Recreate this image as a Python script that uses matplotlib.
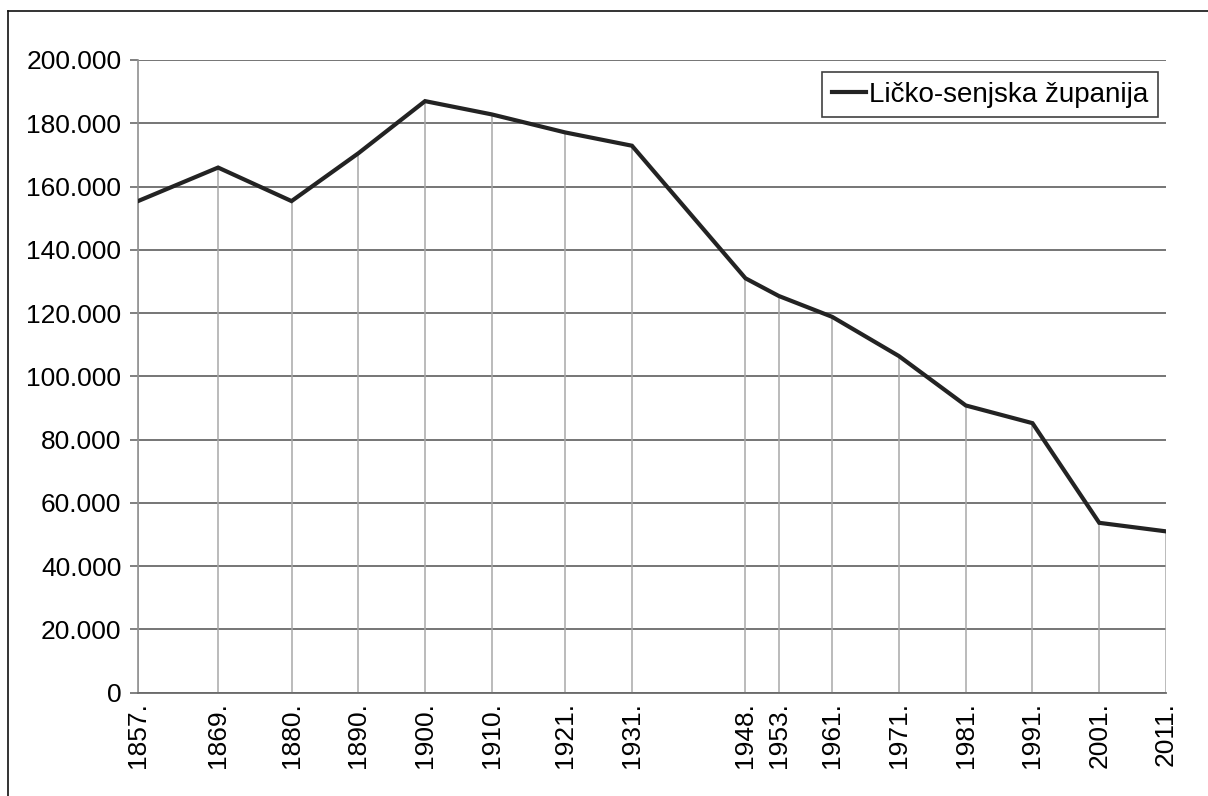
import matplotlib
matplotlib.use("Agg")
import matplotlib.pyplot as plt
from matplotlib import font_manager
from matplotlib.ticker import FuncFormatter, FixedLocator
from matplotlib.lines import Line2D

years = [1857, 1869, 1880, 1890, 1900, 1910, 1921, 1931, 1948, 1953, 1961, 1971, 1981, 1991, 2001, 2011]
population = [155400, 166000, 155400, 170500, 187000, 182800, 177100, 172900,
              131000, 125400, 118800, 106400, 90800, 85200, 53700, 51000]
series_name = "Ličko-senjska županija"
year_labels = [f"{y}." for y in years]
y_ticks = [0, 20000, 40000, 60000, 80000, 100000, 120000, 140000, 160000, 180000, 200000]

names = {f.name for f in font_manager.fontManager.ttflist}
fam = "Liberation Sans Narrow" if "Liberation Sans Narrow" in names else "Liberation Sans"
plt.rcParams['font.family'] = [fam, 'DejaVu Sans']

W, H = 1208, 796
fig = plt.figure(figsize=(W / 100, H / 100), dpi=100)
L, R, T, B = 138, 1166, 60, 692.7
ax = fig.add_axes([L / W, 1 - B / H, (R - L) / W, (B - T) / H])

# drop lines from each point down to zero
ax.vlines(years, 0, population, colors="#a8a8a8", linewidth=1.1, zorder=1)
ax.set_xlim(years[0], years[-1])
ax.set_ylim(0, 200000)
ax.yaxis.set_major_locator(FixedLocator(y_ticks))
ax.grid(axis="y", color="#6a6a6a", linewidth=1.3, zorder=0)
ax.set_axisbelow(True)

ax.plot(years, population, color="#232323", linewidth=3.0, solid_joinstyle="miter",
        zorder=3, label=series_name)

ax.set_xticks(years)
ax.set_xticklabels(year_labels, rotation=90, fontsize=19)
ax.yaxis.set_major_formatter(FuncFormatter(lambda v, p: "0" if v == 0 else f"{int(v):,}".replace(",", ".")))
ax.tick_params(axis="y", labelsize=19, length=6, width=1.2, color="#6a6a6a", pad=6)
ax.tick_params(axis="x", length=0, pad=7)

for s in ["top", "right"]:
    ax.spines[s].set_visible(False)
ax.spines["left"].set_color("#909090")
ax.spines["left"].set_linewidth(1.2)
ax.spines["bottom"].set_color("#6a6a6a")
ax.spines["bottom"].set_linewidth(1.3)

leg = ax.legend(loc="upper right", bbox_to_anchor=((1158 - L) / (R - L), 1 - (72 - T) / (B - T)),
                borderaxespad=0, fontsize=20, frameon=True, fancybox=False,
                handlelength=1.25, handletextpad=0.1, borderpad=0.35)
leg.get_frame().set_edgecolor("#111111")
leg.get_frame().set_linewidth(1.2)
for h in leg.get_lines():
    h.set_linewidth(3.0)

# outer frame lines (top and left)
fig.add_artist(Line2D([8 / W, 1], [1 - 11 / H, 1 - 11 / H], color="#111111", linewidth=1.2, transform=fig.transFigure))
fig.add_artist(Line2D([8 / W, 8 / W], [0, 1 - 11 / H], color="#111111", linewidth=1.2, transform=fig.transFigure))

fig.savefig("out.png", dpi=100)
